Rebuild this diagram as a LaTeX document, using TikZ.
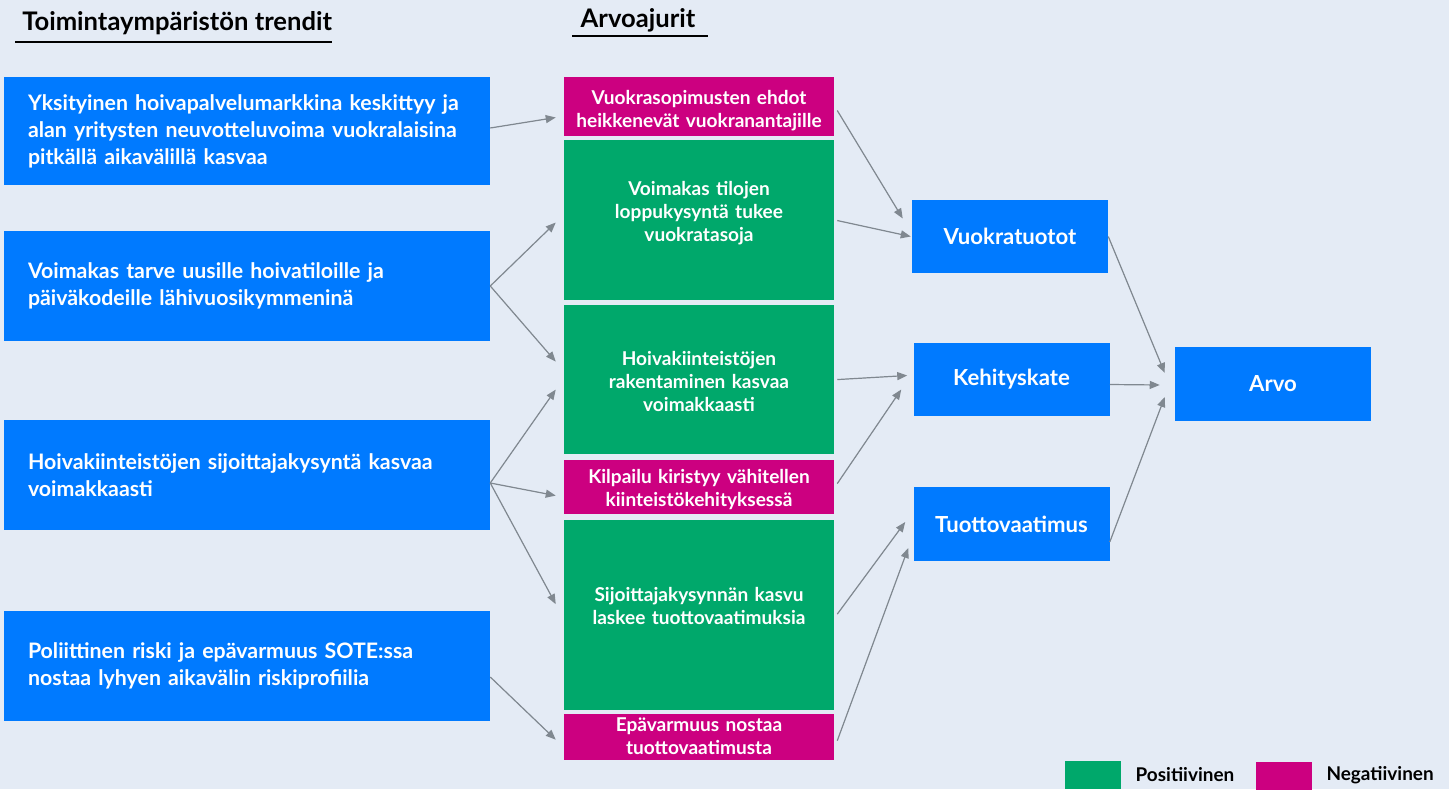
\documentclass[tikz,border=0pt]{standalone}
\usepackage{fontspec}
\setmainfont{Lato}
\usetikzlibrary{arrows.meta,positioning,calc}

\definecolor{bgcol}{RGB}{228,235,245}
\definecolor{trendblue}{RGB}{0,122,255}
\definecolor{posgreen}{RGB}{0,168,107}
\definecolor{negmag}{RGB}{204,0,128}
\definecolor{conngray}{RGB}{128,136,144}

\newcommand\trendspacing{\spaceskip=0.34em plus 0.1em\relax}

\begin{document}
\begin{tikzpicture}[
        x=0.75pt, y=-0.75pt,
        font=\bfseries,
    % trends: left column, left aligned text, a bit of extra word space
        trend/.style={fill=trendblue, text=white,
            font=\fontsize{16}{20.25}\selectfont\bfseries\trendspacing,
            text width=328.5pt, inner xsep=18pt, inner ysep=0pt,
            minimum height=82.5pt, align=left},
    % value drivers: middle column, colour tells the sign
        driver/.style={text=white,
            font=\fontsize{14.3}{17.25}\selectfont\bfseries,
            text width=195pt, inner xsep=3.75pt, inner ysep=0pt, align=center},
        posdrv/.style={driver, fill=posgreen},
        negdrv/.style={driver, fill=negmag},
    % first baseline sits #1/2 above the box centre
        firstbase/.style={text height=0pt, text depth=#1},
        outc/.style={fill=trendblue, text=white,
            font=\fontsize{16.6}{20}\selectfont\bfseries,
            minimum width=147pt, minimum height=55pt, inner sep=0pt},
        heading/.style={font=\fontsize{19.2}{22}\selectfont\bfseries, inner sep=0pt},
        headline/.style={line width=1pt},
        legbox/.style={minimum width=42pt, minimum height=21pt, inner sep=0pt},
        legtext/.style={font=\fontsize{14.2}{16}\selectfont\bfseries, inner sep=0pt},
        conn/.style={-{Triangle[length=7.5pt,width=6pt]}, draw=conngray, fill=conngray, line width=0.9pt}
    ]
    \fill[bgcol] (0,0) rectangle (1449,789);
    \useasboundingbox (0,0) rectangle (1449,789);

% --- headings ---
    \node[heading, anchor=base west] (trendhead) at (22,30) {Toimintaympäristön trendit};
    \draw[headline] ($(trendhead.base west)+(-7,12)$) -- ($(trendhead.base east)+(0,12)$);
    \node[heading, anchor=base] (drvhead) at (638,27) {Arvoajurit};
    \draw[headline] (572,36) -- (708,36);

% --- trends (left) ---
    \node[trend, minimum height=81pt] (l1) at (247,131)
        {Yksityinen hoivapalvelumarkkina keskittyy ja\\alan yritysten neuvotteluvoima vuokralaisina\\pitkällä aikavälillä kasvaa};
    \node[trend] (l2) at (247,286)
        {Voimakas tarve uusille hoivatiloille ja\\päiväkodeille lähivuosikymmeninä};
    \node[trend] (l3) at (247,475)
        {Hoivakiinteistöjen sijoittajakysyntä kasvaa\\voimakkaasti};
    \node[trend] (l4) at (247,666)
        {Poliittinen riski ja epävarmuus SOTE:ssa\\nostaa lyhyen aikavälin riskiprofiilia};

% --- value drivers (middle) ---
    \node[negdrv, minimum height=44.25pt, firstbase=3pt] (m1) at (699,106.5)
        {Vuokrasopimusten ehdot\\heikkenevät vuokranantajille};
    \node[posdrv, minimum height=120pt, firstbase=36pt, below=2.25pt of m1] (m2)
        {Voimakas tilojen\\loppukysyntä tukee\\vuokratasoja};
    \node[posdrv, minimum height=111.75pt, firstbase=21.75pt, below=3.75pt of m2] (m3)
        {Hoivakiinteistöjen\\rakentaminen kasvaa\\voimakkaasti};
    \node[negdrv, minimum height=40.5pt, firstbase=5pt, below=3.75pt of m3] (m4)
        {Kilpailu kiristyy vähitellen\\kiinteistökehityksessä};
    \node[posdrv, minimum height=142.5pt, firstbase=21pt, below=4.5pt of m4] (m5)
        {Sijoittajakysynnän kasvu\\laskee tuottovaatimuksia};
    \node[negdrv, minimum height=34.5pt, firstbase=8pt, below=2.25pt of m5] (m6)
        {Epävarmuus nostaa\\tuottovaatimusta};

% --- outcomes (right) ---
    \node[outc] (r1) at (1010,236.5) {Vuokratuotot};
    \node[outc] (r2) at (1011.5,379.5) {Kehityskate};
    \node[outc] (r3) at (1011.5,524) {Tuottovaatimus};
    \node[outc] (arvo) at (1273,384) {Arvo};

% --- legend ---
    \node[legbox, fill=posgreen] (legpos) at (1092.5,775) {};
    \node[legtext, right=11pt of legpos] (legpostxt) {Positiivinen};
    \node[legbox, fill=negmag] (legneg) at (1284,775.5) {};
    \node[legtext, right=10.5pt of legneg] (legnegtxt) {Negatiivinen};

% --- trends -> drivers ---
    \draw[conn] ($(l1.east)+(0,-3)$) -- ($(m1.west)+(-8,11)$);
    \draw[conn] (l2.east) -- ($(m2.west)+(-8,3)$);
    \draw[conn] (l2.east) -- ($(m3.west)+(-8,-18)$);
    \draw[conn] ($(l3.east)+(0,8)$) -- ($(m3.west)+(-8,10)$);
    \draw[conn] ($(l3.east)+(0,8)$) -- ($(m4.west)+(-8,9)$);
    \draw[conn] ($(l3.east)+(0,8)$) -- ($(m5.west)+(-8,-11)$);
    \draw[conn] ($(l4.east)+(0,11)$) -- ($(m6.west)+(-8,3)$);

% --- drivers -> outcomes ---
    \draw[conn] ($(m1.east)+(3,4)$) -- ($(r1.west)+(-9,-18)$);
    \draw[conn] ($(m2.east)+(3,1)$) -- ($(r1.west)+(-1,0)$);
    \draw[conn] ($(m3.east)+(3,0)$) -- ($(r2.west)+(-6,-4)$);
    \draw[conn] ($(m4.east)+(3,-3)$) -- ($(r2.west)+(-12,10)$);
    \draw[conn] ($(m5.east)+(3,-1)$) -- ($(r3.west)+(-8,-2)$);
    \draw[conn] ($(m6.east)+(3,4)$) -- ($(r3.west)+(-5,24)$);

% --- outcomes -> value ---
    \draw[conn] (r1.east) -- ($(arvo.west)+(-10,-11)$);
    \draw[conn] ($(r2.east)+(0,5)$) -- ($(arvo.west)+(-15,1)$);
    \draw[conn] ($(r3.east)+(0,18)$) -- ($(arvo.west)+(-10,13)$);
\end{tikzpicture}
\end{document}
